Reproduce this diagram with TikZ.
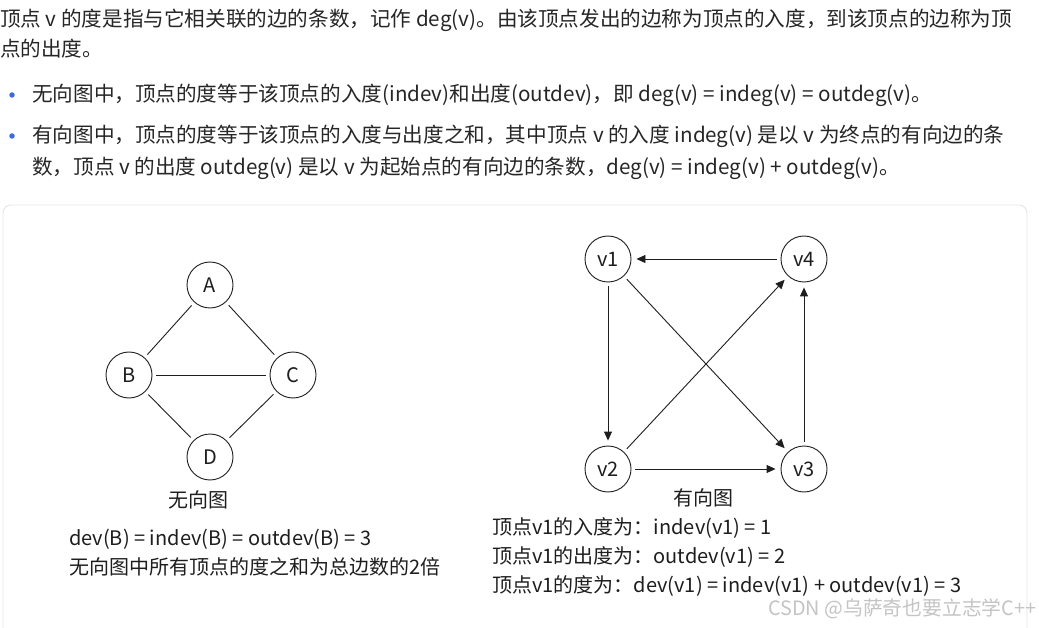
\documentclass[tikz,border=0pt]{standalone}
\usepackage{fontspec}
\setmainfont{Noto Sans CJK SC}
\usetikzlibrary{arrows.meta}
\definecolor{txt}{HTML}{262626}
\definecolor{ink}{HTML}{1E1E1E}
\definecolor{bulletblue}{HTML}{3D6BE0}
\definecolor{boxline}{HTML}{E6E6E6}
\definecolor{wm}{HTML}{C4C4C4}
\begin{document}
\begin{tikzpicture}[x=1pt,y=-1pt,
  toptext/.style={anchor=base west,inner sep=0pt,text=txt,font=\fontsize{20.6}{20.6}\selectfont},
  dtext/.style={anchor=base west,inner sep=0pt,text=ink,font=\fontsize{20}{20}\selectfont},
  vtx/.style={draw=ink,line width=0.9pt,circle,minimum size=46pt,inner sep=0pt,text=ink,font=\fontsize{20}{20}\selectfont},
  edge/.style={draw=ink,line width=0.9pt,shorten <=4pt,shorten >=4pt},
  arc/.style={draw=ink,line width=0.9pt,shorten <=4pt,shorten >=5pt,-{Triangle[length=9pt,width=8pt]}},
  dot/.style={circle,fill=bulletblue,inner sep=0pt,minimum size=5.5pt}
]
\useasboundingbox[fill=white] (0,0) rectangle (1039,628);
% top text
\node[toptext] (t1) at (0,27) {顶点 v 的度是指与它相关联的边的条数，记作 deg(v)。由该顶点发出的边称为顶点的入度，到该顶点的边称为顶};
\node[toptext] (t2) at (0,57) {点的出度。};
\node[dot] (b1) at (12,95) {};
\node[toptext] (t3) at (32,102) {无向图中，顶点的度等于该顶点的入度(indev)和出度(outdev)，即 deg(v) = indeg(v) = outdeg(v)。};
\node[dot] (b2) at (12,136) {};
\node[toptext] (t4) at (32,143) {有向图中，顶点的度等于该顶点的入度与出度之和，其中顶点 v 的入度 indeg(v) 是以 v 为终点的有向边的条};
\node[toptext] (t5) at (32,175) {数，顶点 v 的出度 outdeg(v) 是以 v 为起始点的有向边的条数，deg(v) = indeg(v) + outdeg(v)。};
% panel
\draw[boxline,line width=0.9pt,rounded corners=8pt] (3,205) -- (1027,205) -- (1027,640) -- (3,640) -- cycle;
% undirected graph
\node[vtx] (A) at (210,285) {A};
\node[vtx] (B) at (129,375) {B};
\node[vtx] (C) at (293,375) {C};
\node[vtx] (D) at (210,457) {D};
\draw[edge] (A) -- (B);
\draw[edge] (A) -- (C);
\draw[edge] (B) -- (C);
\draw[edge] (B) -- (D);
\draw[edge] (C) -- (D);
\node[dtext,anchor=base] (ulabel) at (198,507) {无向图};
\node[dtext] (u1) at (69,545) {dev(B) = indev(B) = outdev(B) = 3};
\node[dtext] (u2) at (69,574) {无向图中所有顶点的度之和为总边数的2倍};
% directed graph
\node[vtx] (v1) at (608,259) {v1};
\node[vtx] (v4) at (804,259) {v4};
\node[vtx] (v2) at (608,469) {v2};
\node[vtx] (v3) at (804,469) {v3};
\draw[arc] (v4) -- (v1);
\draw[arc] (v1) -- (v2);
\draw[arc] (v1) -- (v3);
\draw[arc] (v2) -- (v4);
\draw[arc] (v2) -- (v3);
\draw[arc] (v3) -- (v4);
\node[dtext,anchor=base] (dlabel) at (703,505) {有向图};
\node[dtext] (d1) at (492,534) {顶点v1的入度为：indev(v1) = 1};
\node[dtext] (d2) at (492,563) {顶点v1的出度为：outdev(v1) = 2};
\node[dtext] (d3) at (492,592) {顶点v1的度为：dev(v1) = indev(v1) + outdev(v1) = 3};
% watermark
\node[anchor=base west,inner sep=0pt,text=wm,font=\fontsize{19.8}{19.8}\selectfont] (wmk) at (768,615) {CSDN @乌萨奇也要立志学C++};
\end{tikzpicture}
\end{document}
